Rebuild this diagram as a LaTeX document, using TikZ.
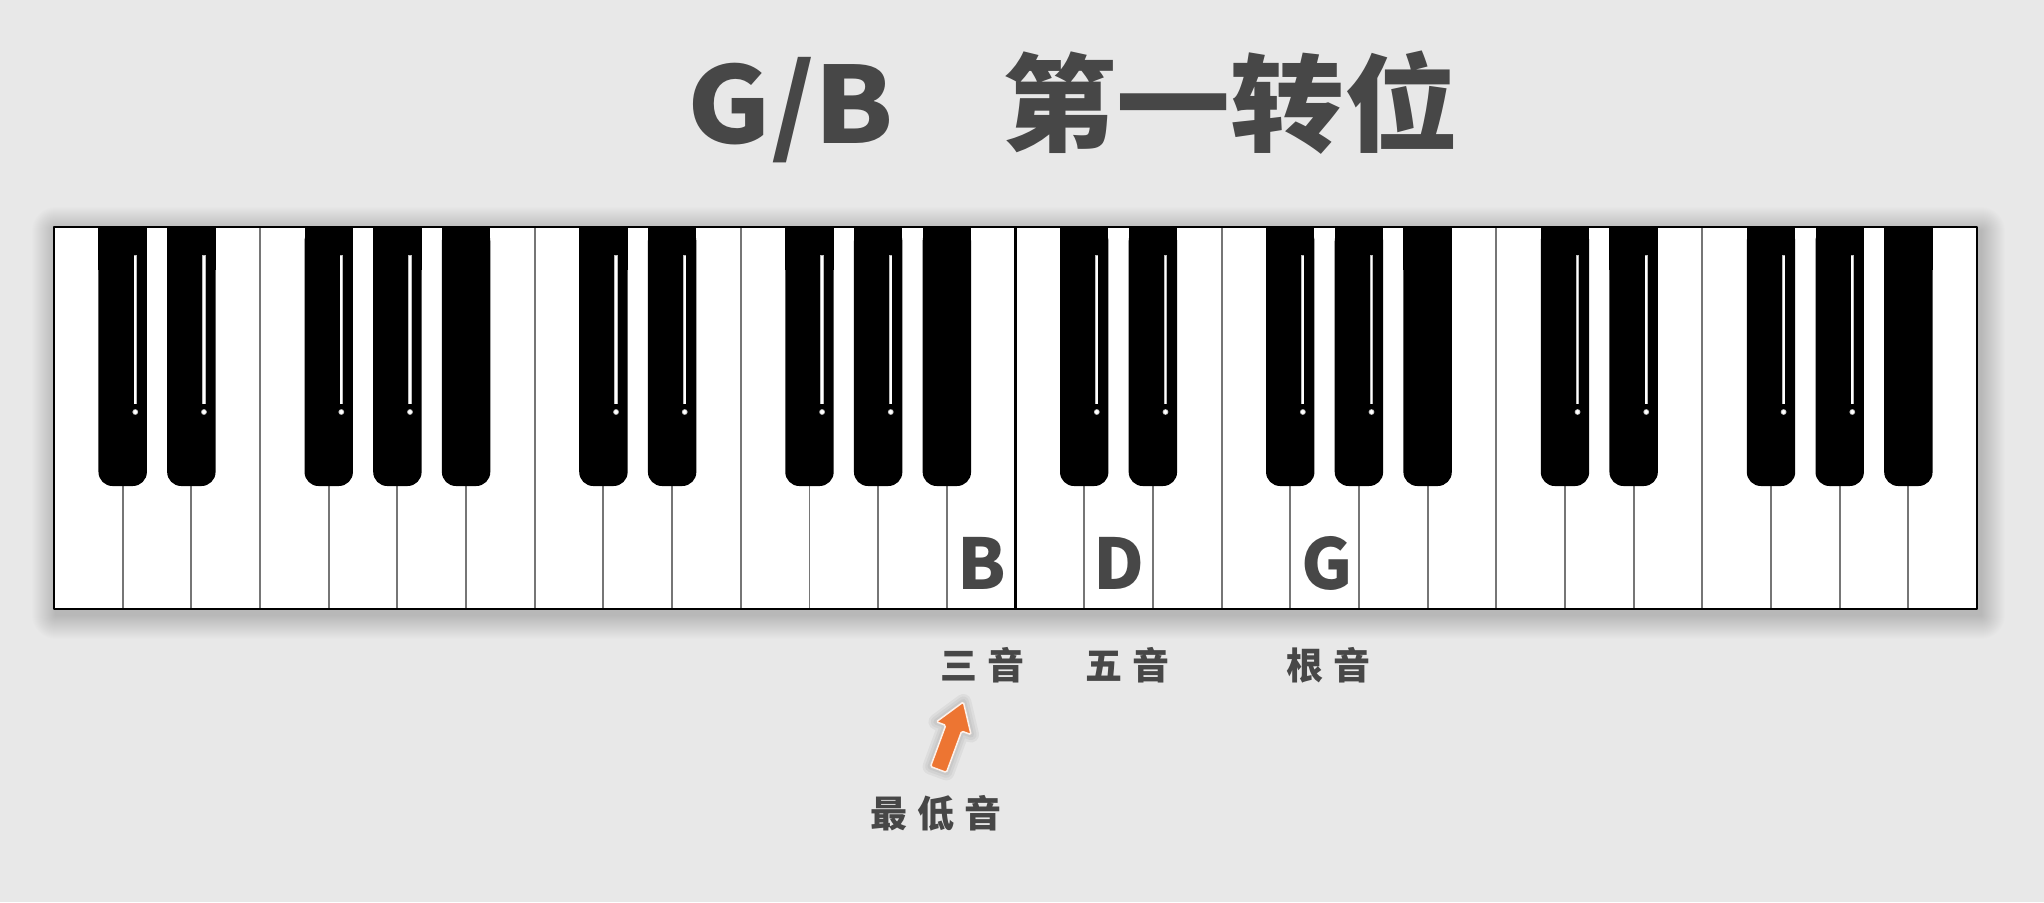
\documentclass[tikz,border=0pt]{standalone}
\usepackage{fontspec}
\newfontfamily\cjk{Noto Sans CJK SC}
\definecolor{bg}{HTML}{E8E8E8}
\definecolor{txt}{HTML}{474747}
\definecolor{orng}{HTML}{ED7532}
\definecolor{divg}{HTML}{767676}
\tikzset{
  titletext/.style={inner sep=0pt, text=txt, xscale=1.075, font=\cjk\bfseries\fontsize{106}{110}\selectfont},
  notetext/.style={inner sep=0pt, text=txt, font=\cjk\bfseries\fontsize{70}{74}\selectfont},
  labeltext/.style={inner sep=0pt, text=txt, font=\cjk\bfseries\fontsize{37}{40}\selectfont},
  divider/.style={draw=divg, line width=1.9pt},
  blackkey/.style={fill=black},
}
\begin{document}
\begin{tikzpicture}[x=1pt,y=-1pt]
\fill[bg] (0,0) rectangle (2044,902);
\useasboundingbox (0,0) rectangle (2044,902);
% keyboard shadow
\foreach \i in {1,...,24} {
  \fill[black, opacity=0.0085, rounded corners=\i pt] (54-\i+2, 227-\i+4) rectangle (1977+\i+4, 609+\i+6);
}
% white area
\fill[white] (54,227) rectangle (1977,609);
\def\kw{68.68}
% dividers
\foreach \k in {1,...,27} {
  \ifnum\k=14\relax
    \draw[black, line width=2.8pt] (54+\k*\kw,227) -- (54+\k*\kw,609);
  \else
    \draw[divider] (54+\k*\kw,227) -- (54+\k*\kw,609);
  \fi
}
% black keys
\foreach \o in {0,...,3} {
  \foreach \k/\s in {1/1,2/1,4/1,5/1,6/0} {
    \pgfmathsetmacro\cx{54+(7*\o+\k)*\kw}
    \fill[blackkey, rounded corners=14pt] (\cx-24.2,227) rectangle (\cx+24.2,486);
    \fill[blackkey] (\cx-24.2,227) rectangle (\cx+24.2,270);
    \ifnum\s=1\relax
      \draw[gray!55, line width=3.2pt] (\cx+12.6,255) -- (\cx+12.6,404);
      \draw[white, line width=1.8pt] (\cx+12.6,255.5) -- (\cx+12.6,403.5);
      \fill[gray!55] (\cx+12.6,412) circle (2.9pt);
      \fill[white] (\cx+12.6,412) circle (2.0pt);
    \fi
  }
}
% border
\draw[black, line width=2.8pt, line join=round] (54,227) rectangle (1977,609);
% title
\node[titletext, anchor=base] (title) at (1073,143) {G/B\hspace{101pt}第一转位};
% note letters
\node[notetext, anchor=base] (noteB) at (982,589) {B};
\node[notetext, anchor=base] (noteD) at (1118.5,589) {D};
\node[notetext, anchor=base] (noteG) at (1327,589) {G};
% labels
\node[labeltext] (third) at (982,665) {三\hspace{10pt}音};
\node[labeltext] (fifth) at (1127,665) {五\hspace{10pt}音};
\node[labeltext] (root) at (1328,665) {根\hspace{10pt}音};
\node[labeltext] (lowest) at (936,813) {最\hspace{10pt}低\hspace{10pt}音};
% orange arrow
\begin{scope}[shift={(938.5,769.5)}, rotate=69.8]
  \foreach \w in {16,11,6} {
    \draw[black, opacity=0.045, line width=\w pt, line join=round]
      (0,8.5) -- (44,8.5) -- (44,18.5) -- (72,0) -- (44,-18.5) -- (44,-8.5) -- (0,-8.5) -- cycle;
  }
  \filldraw[fill=orng, draw=white!90!orng, line width=1.5pt, rounded corners=1.5pt]
    (0,8.5) -- (44,8.5) -- (44,18.5) -- (72,0) -- (44,-18.5) -- (44,-8.5) -- (0,-8.5) -- cycle;
\end{scope}
\end{tikzpicture}
\end{document}
